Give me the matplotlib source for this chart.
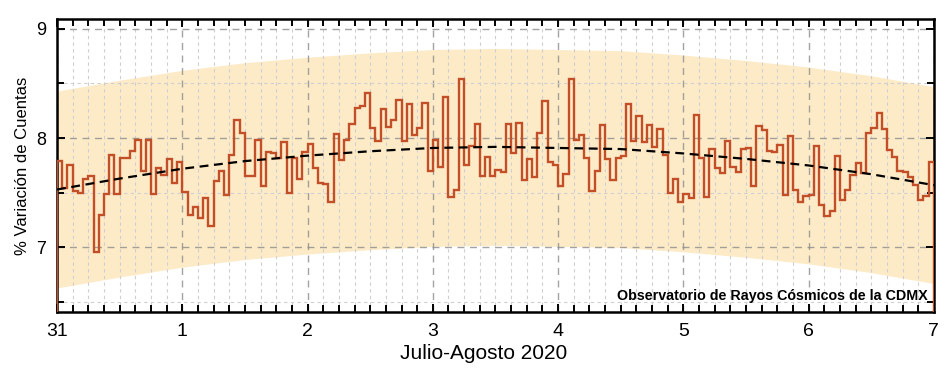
import numpy as np
import matplotlib
matplotlib.use('Agg')
import matplotlib.pyplot as plt
from matplotlib.ticker import MultipleLocator, FixedLocator

plt.rcParams['font.family'] = ['Liberation Sans', 'DejaVu Sans']

# hourly count variation (%), 31 Jul 00h .. 6 Aug 23h
dia31 = [7.79, 7.54, 7.75, 7.52, 7.50, 7.63, 7.65, 6.96, 7.30, 7.49, 7.85, 7.49,
         7.82, 7.82, 7.88, 7.98, 7.70, 7.98, 7.49, 7.73, 7.66, 7.81, 7.59, 7.78]
dia1 = [7.51, 7.30, 7.37, 7.27, 7.45, 7.20, 7.61, 7.70, 7.48, 7.85, 8.17, 8.05,
        7.65, 7.65, 7.98, 7.56, 7.87, 7.86, 7.82, 7.96, 7.50, 7.82, 7.63, 7.87]
dia2 = [7.95, 7.73, 7.59, 7.58, 7.42, 8.04, 7.80, 7.98, 8.13, 8.28, 8.29, 8.41,
        8.09, 7.97, 8.27, 8.10, 8.17, 8.35, 7.97, 8.31, 8.03, 8.09, 8.32, 7.70]
dia3 = [7.98, 7.74, 8.38, 7.46, 7.53, 8.54, 7.75, 7.93, 8.13, 7.65, 7.83, 7.65,
        7.71, 7.69, 8.13, 7.86, 8.14, 7.62, 7.81, 7.64, 8.05, 8.34, 7.78, 7.75]
dia4 = [7.56, 7.67, 8.54, 7.98, 8.03, 7.82, 7.52, 7.70, 8.12, 7.81, 7.62, 7.82,
        7.84, 8.31, 7.97, 8.20, 7.96, 8.12, 7.92, 8.08, 7.85, 7.50, 7.63, 7.42]
dia5 = [7.49, 7.45, 8.21, 7.82, 7.46, 7.90, 7.73, 7.68, 7.97, 7.74, 7.69, 7.90,
        7.91, 7.56, 8.11, 8.07, 7.88, 7.87, 7.94, 7.48, 8.02, 7.53, 7.42, 7.47]
dia6 = [7.48, 7.93, 7.39, 7.29, 7.33, 7.84, 7.43, 7.53, 7.66, 7.77, 7.68, 8.05,
        8.09, 8.23, 8.08, 7.89, 7.83, 7.70, 7.69, 7.64, 7.57, 7.43, 7.47, 7.78]
cuentas = dia31 + dia1 + dia2 + dia3 + dia4 + dia5 + dia6

# trend, read every 12 hours
horas_tend = [0, 12, 24, 36, 48, 60, 72, 84, 96, 108, 120, 132, 144, 156, 168]
tendencia = [7.53, 7.63, 7.72, 7.79, 7.84, 7.88, 7.91, 7.92, 7.91, 7.90,
             7.86, 7.81, 7.75, 7.67, 7.57]
banda = 0.9  # half width of shaded band

dias = ['31', '1', '2', '3', '4', '5', '6', '7']

horas = np.arange(len(cuentas) + 1)
tend = np.array(tendencia)

fig = plt.figure(figsize=(9.47, 3.71), dpi=100)
ax = fig.add_axes([0.0602, 0.159, 0.926, 0.790])

ax.fill_between(horas_tend, tend - banda, tend + banda, color='#fdebc8',
                lw=0, zorder=1)
ax.stairs(cuentas, horas, color='#c24f28', lw=1.7, zorder=3)
ax.plot(horas_tend, tendencia, color='black', ls=(0, (4, 2.5)), lw=1.6, zorder=4)

ax.set_xlim(0, 168)
ax.set_ylim(6.41, 9.09)
ax.xaxis.set_minor_locator(MultipleLocator(3))
ax.set_xticks(np.arange(0, 169, 24))
ax.set_xticklabels(dias)
ax.yaxis.set_major_locator(FixedLocator([7, 8, 9]))
ax.yaxis.set_minor_locator(MultipleLocator(0.5))

ax.grid(which='major', color='#8c8c8c', ls=(0, (5, 4)), lw=1.0, alpha=0.8)
ax.grid(which='minor', color='#cfcfcf', ls=(0, (3, 3)), lw=0.8)

ax.tick_params(which='both', direction='in', top=True, right=True,
               width=1.4, pad=8)
ax.tick_params(axis='x', labelsize=14)
ax.tick_params(axis='y', labelsize=13)
ax.tick_params(which='major', length=6)
ax.tick_params(which='minor', length=5)
for s in ax.spines.values():
    s.set_linewidth(1.8)

ax.set_xlabel('Julio-Agosto 2020', fontsize=15, labelpad=6)
ax.xaxis.set_label_coords(0.487, -0.11)
ax.set_ylabel('% Variación de Cuentas', fontsize=12)

ax.text(0.993, 0.032, 'Observatorio de Rayos Cósmicos de la CDMX',
        transform=ax.transAxes, ha='right', va='bottom',
        fontsize=10.3, fontweight='bold', zorder=5)

fig.savefig('out.png', dpi=100)
